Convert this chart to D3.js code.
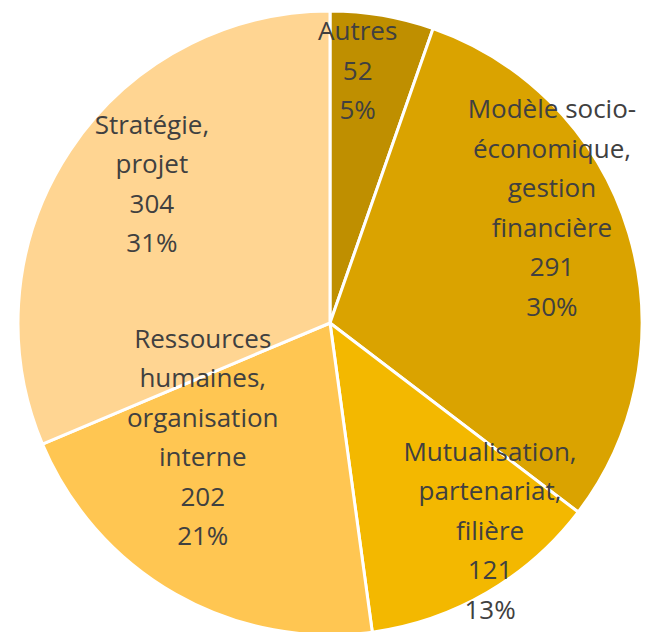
<!DOCTYPE html>
<html>
<head>
<meta charset="utf-8">
<script src="https://cdn.jsdelivr.net/npm/d3@7"></script>
<style>
  html, body { margin: 0; padding: 0; background: #fff; }
</style>
</head>
<body>
<svg id="chart"></svg>
<script>
// data
const categories = ['Autres', 'Modèle socio-économique, gestion financière', 'Mutualisation, partenariat, filière', 'Ressources humaines, organisation interne', 'Stratégie, projet'];
const values = [52, 291, 121, 202, 304];
const percents = ['5%', '30%', '13%', '21%', '31%'];
const labelLines = [
  ['Autres'],
  ['Modèle socio-', 'économique,', 'gestion', 'financière'],
  ['Mutualisation,', 'partenariat,', 'filière'],
  ['Ressources', 'humaines,', 'organisation', 'interne'],
  ['Stratégie,', 'projet']
];

const colors = ['#BF8F00', '#DAA300', '#F3B800', '#FFC652', '#FFD592'];
// label placement: radius and angle nudge (degrees) from slice middle
const labelR = [254, 250, 262, 171, 226];
const labelNudge = [-3.4, -10.7, -7.4, 18.4, 4.4];

const width = 659, height = 632;
const cx = 330, cy = 323, radius = 312;
const lineH = 39.5;

const svg = d3.select('#chart').attr('width', width).attr('height', height);
const g = svg.append('g').attr('transform', `translate(${cx},${cy})`);

const pie = d3.pie().sort(null).value(d => d.value);
const arcs = pie(categories.map((c, i) => ({ name: c, value: values[i], i })));

const arc = d3.arc().innerRadius(0).outerRadius(radius);

g.selectAll('path')
  .data(arcs)
  .enter()
  .append('path')
  .attr('d', arc)
  .attr('fill', d => colors[d.data.i])
  .attr('stroke', '#fff')
  .attr('stroke-width', 3)
  .attr('stroke-linejoin', 'round');

arcs.forEach(d => {
  const i = d.data.i;
  const mid = (d.startAngle + d.endAngle) / 2 + labelNudge[i] * Math.PI / 180;
  const x = labelR[i] * Math.sin(mid);
  const y = -labelR[i] * Math.cos(mid);
  const lines = labelLines[i].concat([String(values[i]), percents[i]]);
  const t = g.append('text')
    .attr('text-anchor', 'middle')
    .attr('font-family', '"Open Sans", sans-serif')
    .attr('font-size', 26)
    .attr('fill', '#404040');
  lines.forEach((l, k) => {
    t.append('tspan')
      .attr('x', x)
      .attr('y', y + (k - (lines.length - 1) / 2) * lineH)
      .attr('dy', '0.35em')
      .text(l);
  });
});
</script>
</body>
</html>
